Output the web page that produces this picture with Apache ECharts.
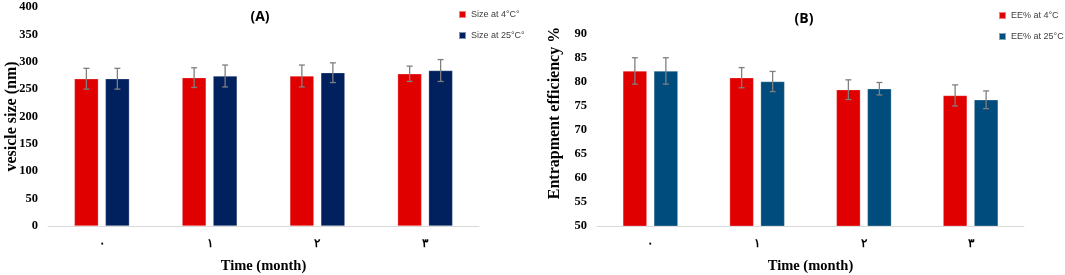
<!DOCTYPE html>
<html>
<head>
<meta charset="utf-8">
<script src="https://cdn.jsdelivr.net/npm/echarts@6/dist/echarts.min.js"></script>
<style>html,body{margin:0;padding:0;background:#fff}#c{width:1065px;height:275px}</style>
</head>
<body>
<div id="c"></div>
<script>
const categories = ['٠', '١', '٢', '٣'];
const sizeNames = ['Size at 4°C°', 'Size at 25°C°'];
const eeNames = ['EE% at 4°C', 'EE% at 25°C'];
const size4 = [269, 271, 274, 278];
const size4Err = [19, 18, 20, 14];
const size25 = [269, 274, 280, 284];
const size25Err = [19, 20, 18, 20];
const ee4 = [82.3, 80.9, 78.4, 77.2];
const ee4Err = [2.75, 2.1, 2.05, 2.2];
const ee25 = [82.3, 80.1, 78.6, 76.3];
const ee25Err = [2.75, 2.1, 1.3, 1.85];
const sizeTicks = [0, 400, 50];
const eeTicks = [50, 90, 5];

const RED = '#E00000', NAVY = '#00205E', TEAL = '#004C7C', ERR = '#7F7F7F';
const serif = '"Liberation Serif", "Times New Roman", serif';
const sans = '"Liberation Sans", Arial, sans-serif';
const BW = 24, GAP = 7;

function errSeries(name, vals, errs, axisIdx, sign) {
  return {
    type: 'custom', name: name + ' err', xAxisIndex: axisIdx, yAxisIndex: axisIdx, z: 5,
    data: vals.map((v, i) => [i, v - errs[i], v + errs[i]]),
    renderItem: function (params, api) {
      const lo = api.coord([api.value(0), api.value(1)]);
      const hi = api.coord([api.value(0), api.value(2)]);
      const x = lo[0] + sign * (BW + GAP) / 2;
      const c = 3;
      const st = { stroke: ERR, lineWidth: 1.3 };
      return { type: 'group', children: [
        { type: 'line', shape: { x1: x, y1: lo[1], x2: x, y2: hi[1] }, style: st },
        { type: 'line', shape: { x1: x - c, y1: lo[1], x2: x + c, y2: lo[1] }, style: st },
        { type: 'line', shape: { x1: x - c, y1: hi[1], x2: x + c, y2: hi[1] }, style: st }
      ]};
    }
  };
}

function xAx(idx) {
  return {
    type: 'category', gridIndex: idx, data: categories,
    axisLine: { lineStyle: { color: '#D9D9D9', width: 1 } },
    axisTick: { show: false },
    axisLabel: { color: '#000', fontFamily: serif, fontWeight: 'bold', fontSize: 12, margin: 12 },
    name: 'Time (month)', nameLocation: 'middle', nameGap: 33, nameMoveOverlap: false,
    nameTextStyle: { color: '#000', fontFamily: serif, fontWeight: 'bold', fontSize: 14.5 }
  };
}
function yAx(idx, t, name, gap, fs, shift) {
  return {
    type: 'value', gridIndex: idx, min: t[0], max: t[1], interval: t[2],
    axisLine: { show: false }, axisTick: { show: false }, splitLine: { show: false },
    axisLabel: { color: '#000', fontFamily: serif, fontWeight: 'bold', fontSize: 12.5, margin: 10 },
    name: name, nameLocation: 'middle', nameGap: gap, nameRotate: 90, nameMoveOverlap: false,
    nameTextStyle: { color: '#000', fontFamily: serif, fontWeight: 'bold', fontSize: fs, padding: [0, 0, 0, shift] }
  };
}
function bar(name, vals, idx, color) {
  return {
    type: 'bar', name: name, xAxisIndex: idx, yAxisIndex: idx, data: vals,
    barWidth: BW, barGap: (GAP / BW * 100) + '%',
    itemStyle: { color: color, borderColor: 'rgba(255,255,255,0.5)', borderWidth: 0.5 }
  };
}
function legend(names, left, top) {
  return {
    data: names, orient: 'vertical', left: left, top: top, itemGap: 12, padding: 0,
    itemWidth: 7, itemHeight: 7, icon: 'rect',
    textStyle: { fontFamily: sans, fontSize: 9, color: '#404040' }
  };
}

const chart = echarts.init(document.getElementById('c'));
chart.setOption({
  animation: false,
  title: [
    { text: '(A)', left: 255, top: 5, textAlign: 'center', textStyle: { fontFamily: '"Open Sans", "Liberation Sans", sans-serif', fontWeight: 'bold', fontSize: 14, color: '#000' } },
    { text: '(B)', left: 799, top: 7, textAlign: 'center', textStyle: { fontFamily: '"Open Sans", "Liberation Sans", sans-serif', fontWeight: 'bold', fontSize: 14, color: '#000' } }
  ],
  legend: [legend(sizeNames, 458, 10), legend(eeNames, 998, 11)],
  grid: [
    { left: 48, right: 586, top: 7, bottom: 49, outerBoundsMode: 'none', containLabel: false },
    { left: 597, right: 41, top: 34, bottom: 49, outerBoundsMode: 'none', containLabel: false }
  ],
  xAxis: [xAx(0), xAx(1)],
  yAxis: [yAx(0, sizeTicks, 'vesicle size (nm)', 28, 16, 0), yAx(1, eeTicks, 'Entrapment efficiency %', 34, 16, 34)],
  series: [
    bar(sizeNames[0], size4, 0, RED),
    bar(sizeNames[1], size25, 0, NAVY),
    bar(eeNames[0], ee4, 1, RED),
    bar(eeNames[1], ee25, 1, TEAL),
    errSeries(sizeNames[0], size4, size4Err, 0, -1),
    errSeries(sizeNames[1], size25, size25Err, 0, 1),
    errSeries(eeNames[0], ee4, ee4Err, 1, -1),
    errSeries(eeNames[1], ee25, ee25Err, 1, 1)
  ]
});
</script>
</body>
</html>
